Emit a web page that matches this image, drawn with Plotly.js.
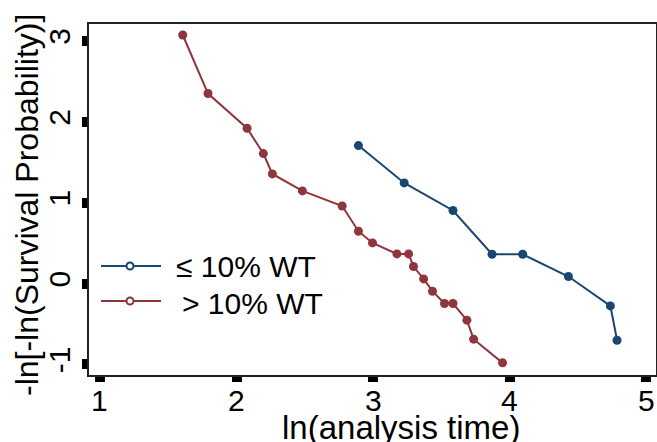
<!DOCTYPE html>
<html>
<head>
<meta charset="utf-8">
<script src="https://cdn.plot.ly/plotly-3.0.1.min.js"></script>
<style>html,body{margin:0;padding:0;background:#fff;}#chart{width:657px;height:442px;}</style>
</head>
<body>
<div id="chart"></div>
<script>
// Series: > 10% WT (maroon)
const highX = [1.606, 1.791, 2.077, 2.196, 2.262, 2.482, 2.773, 2.892, 2.995, 3.174, 3.259, 3.295, 3.369, 3.434, 3.522, 3.584, 3.686, 3.735, 3.947];
const highY = [3.074, 2.350, 1.921, 1.608, 1.356, 1.146, 0.960, 0.648, 0.503, 0.367, 0.367, 0.211, 0.058, -0.094, -0.246, -0.246, -0.452, -0.687, -0.980];
// Series: <= 10% WT (navy)
const lowX = [2.892, 3.227, 3.584, 3.870, 4.094, 4.429, 4.736, 4.785];
const lowY = [1.707, 1.245, 0.904, 0.363, 0.363, 0.088, -0.276, -0.700];

const seriesNames = ["\u2264 10% WT", "> 10% WT"];
const xTicks = [1, 2, 3, 4, 5];
const yTicks = [-1, 0, 1, 2, 3];
const xTitle = "ln(analysis time)";
const yTitle = "-ln[-ln(Survival Probability)]";

const NAVY = "#1a476f";
const MAROON = "#90353b";
const FONT = "Arial, 'Liberation Sans', sans-serif";

const traces = [
  {x: lowX, y: lowY, name: seriesNames[0], mode: "lines+markers", type: "scatter",
   line: {color: NAVY, width: 2}, marker: {color: NAVY, size: 9}},
  {x: highX, y: highY, name: seriesNames[1], mode: "lines+markers", type: "scatter",
   line: {color: MAROON, width: 2}, marker: {color: MAROON, size: 9}}
];

// manual legend (paper coordinates)
function px2x(p){ return (p - 89) / 567; }
function py2y(p){ return (375 - p) / 351; }
const legendRows = [
  {color: NAVY, y: 266, textY: 266, textX: 174, label: seriesNames[0]},
  {color: MAROON, y: 301, textY: 303, textX: 180, label: seriesNames[1]}
];
const shapes = [];
const annotations = [];
legendRows.forEach(r => {
  shapes.push({type: "line", xref: "paper", yref: "paper", x0: px2x(101), x1: px2x(161), y0: py2y(r.y), y1: py2y(r.y),
    line: {color: r.color, width: 2}});
  shapes.push({type: "circle", xref: "paper", yref: "paper", xsizemode: "pixel", ysizemode: "pixel",
    xanchor: px2x(130), yanchor: py2y(r.y), x0: -3.5, x1: 3.5, y0: -3.5, y1: 3.5,
    line: {color: r.color, width: 2}, fillcolor: "white"});
  annotations.push({xref: "paper", yref: "paper", x: px2x(r.textX), y: py2y(r.textY), xanchor: "left", yanchor: "middle",
    text: r.label, showarrow: false, font: {family: FONT, size: 30, color: "#000"}});
});
// x tick labels, placed on the x scale
xTicks.forEach(t => {
  annotations.push({xref: "x", yref: "paper", x: t, y: py2y(401), xanchor: "center", yanchor: "middle",
    text: String(t), showarrow: false, font: {family: FONT, size: 30, color: "#000"}});
});
// axis titles
annotations.push({xref: "paper", yref: "paper", x: px2x(401), y: py2y(427), xanchor: "center", yanchor: "middle",
  text: xTitle, showarrow: false, font: {family: FONT, size: 33, color: "#000"}});
annotations.push({xref: "paper", yref: "paper", x: px2x(27), y: py2y(205), xanchor: "center", yanchor: "middle",
  textangle: -90, text: yTitle, showarrow: false, font: {family: FONT, size: 32, color: "#000"}});

const layout = {
  width: 657, height: 442,
  margin: {l: 89, r: 1, t: 24, b: 67},
  paper_bgcolor: "#fff", plot_bgcolor: "#fff",
  showlegend: false,
  font: {family: FONT, color: "#000"},
  xaxis: {range: [0.92, 5.07], tickvals: xTicks, showticklabels: false,
    showgrid: false, zeroline: false, showline: true, mirror: true, linecolor: "#222", linewidth: 2,
    ticks: "outside", ticklen: 5, tickwidth: 10, tickcolor: "#000"},
  yaxis: {range: [-1.13, 3.21], tickvals: yTicks, ticktext: yTicks.map(String), tickangle: -90,
    showgrid: false, zeroline: false, showline: true, mirror: true, linecolor: "#222", linewidth: 2,
    ticks: "outside", ticklen: 5, tickwidth: 10, tickcolor: "#000",
    tickfont: {family: FONT, size: 30, color: "#000"}},
  shapes: shapes,
  annotations: annotations
};

Plotly.newPlot("chart", traces, layout, {displayModeBar: false, staticPlot: true});
</script>
</body>
</html>
